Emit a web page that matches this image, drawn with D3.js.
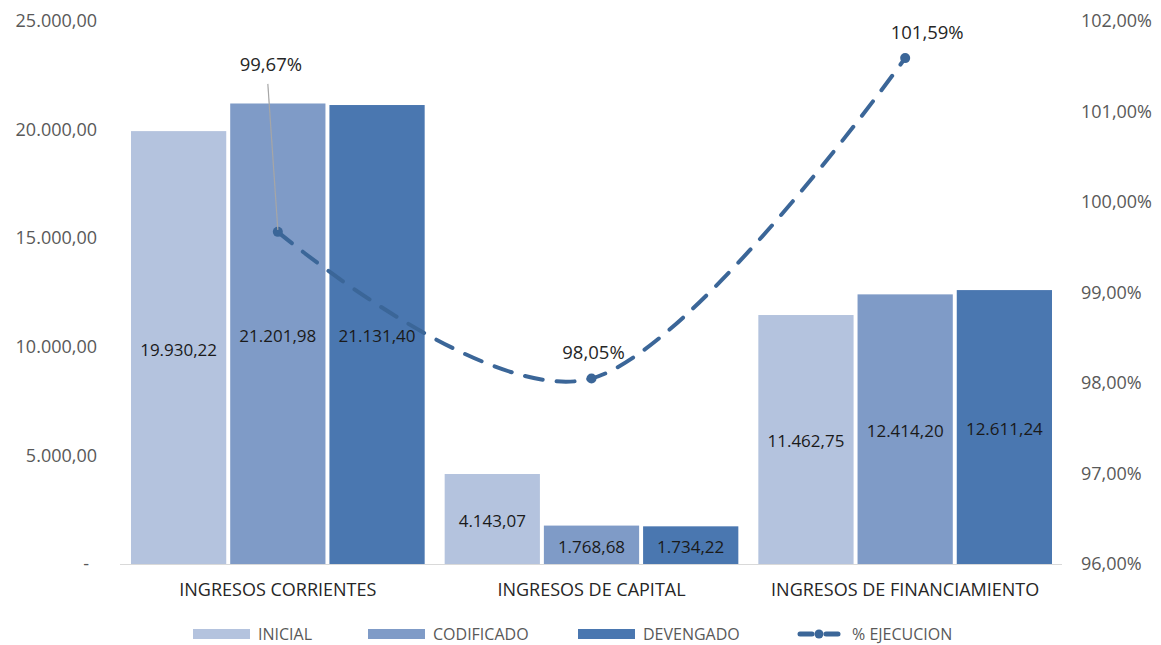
<!DOCTYPE html>
<html><head><meta charset="utf-8">
<script src="https://cdn.jsdelivr.net/npm/d3@7"></script>
<style>
body{margin:0;background:#fff;}
text{font-family:"Open Sans","Noto Sans",sans-serif;}
</style></head>
<body>
<svg id="c" width="1161" height="645"></svg>
<script>
const categories = ["INGRESOS CORRIENTES","INGRESOS DE CAPITAL","INGRESOS DE FINANCIAMIENTO"];
const seriesNames = ["INICIAL","CODIFICADO","DEVENGADO"];
const inicial = [19930.22, 4143.07, 11462.75];
const codificado = [21201.98, 1768.68, 12414.20];
const devengado = [21131.40, 1734.22, 12611.24];
const ejecucion = [99.67, 98.05, 101.59];
const lineName = "% EJECUCION";
const leftTicks = [0, 5000, 10000, 15000, 20000, 25000];
const rightTicks = [96, 97, 98, 99, 100, 101, 102];
const colors = ["#b4c3de", "#7f9bc7", "#4a77b0"];
const lineColor = "#3b6698";

const svg = d3.select("#c");
const pL = 121, pR = 1062, pT = 21, pB = 564;

const x0 = d3.scaleBand().domain(categories).range([pL, pR]).paddingInner(0).paddingOuter(0);
const x1 = d3.scaleBand().domain(seriesNames).range([10, x0.bandwidth() - 10]).paddingInner(0.04);
const y = d3.scaleLinear().domain([0, 25000]).range([pB, pT]);
const y2 = d3.scaleLinear().domain([96, 102]).range([pB, pT]);

const fmt = d3.formatLocale({decimal: ",", thousands: ".", grouping: [3], currency: ["", ""]});
const f2 = fmt.format(",.2f");

const seriesVals = [inicial, codificado, devengado];

// bars
categories.forEach((c, i) => {
  const g = svg.append("g").attr("transform", `translate(${x0(c)},0)`);
  seriesNames.forEach((s, j) => {
    const v = seriesVals[j][i];
    g.append("rect").attr("x", x1(s)).attr("y", y(v)).attr("width", x1.bandwidth())
      .attr("height", y(0) - y(v)).attr("fill", colors[j]);
    g.append("text").attr("x", x1(s) + x1.bandwidth() / 2).attr("y", (y(v) + y(0)) / 2 + 2)
      .attr("dy", "0.35em").attr("text-anchor", "middle").attr("font-size", 17)
      .attr("fill", "#1a1a1a").text(f2(v));
  });
});

// baseline
svg.append("line").attr("x1", pL - 1).attr("x2", pR).attr("y1", y(0) + 0.5).attr("y2", y(0) + 0.5)
  .attr("stroke", "#d9d9d9").attr("stroke-width", 1);

// left axis
const ax = d3.axisLeft(y).tickValues(leftTicks).tickSize(0).tickPadding(0)
  .tickFormat(d => d === 0 ? "-" : f2(d));
const gl = svg.append("g").attr("transform", "translate(97,0)").call(ax);
gl.select(".domain").remove();
gl.selectAll("text").attr("font-size", 18).attr("fill", "#595959").attr("font-family", "'Open Sans',sans-serif");
gl.selectAll(".tick").filter(d => d === 0).select("text").attr("x", -8);

// right axis
const ar = d3.axisRight(y2).tickValues(rightTicks).tickSize(0).tickPadding(0)
  .tickFormat(d => fmt.format(".2f")(d) + "%");
const gr = svg.append("g").attr("transform", "translate(1081,0)").call(ar);
gr.select(".domain").remove();
gr.selectAll("text").attr("font-size", 18).attr("fill", "#595959").attr("font-family", "'Open Sans',sans-serif");

// category labels
categories.forEach(c => {
  svg.append("text").attr("x", x0(c) + x0.bandwidth() / 2).attr("y", 590).attr("dy", "0.35em")
    .attr("text-anchor", "middle").attr("font-size", 18).attr("fill", "#262626").text(c);
});

// line
const pts = categories.map((c, i) => [x0(c) + x0.bandwidth() / 2, y2(ejecucion[i])]);
svg.append("path").attr("d", d3.line().curve(d3.curveCardinal.tension(0))(pts))
  .attr("fill", "none").attr("stroke", lineColor).attr("stroke-width", 4)
  .attr("stroke-dasharray", "18,14").attr("stroke-linecap", "round");
svg.selectAll("circle.pt").data(pts).enter().append("circle")
  .attr("cx", d => d[0]).attr("cy", d => d[1]).attr("r", 5).attr("fill", lineColor);

// line labels (centres relative to points)
const labOff = [[-7, -167], [2, -26], [22, -26]];
svg.append("line").attr("x1", pts[0][0] - 10).attr("y1", pts[0][1] - 148).attr("x2", pts[0][0]).attr("y2", pts[0][1] - 2)
  .attr("stroke", "#a6a6a6").attr("stroke-width", 1.2);
pts.forEach((p, i) => {
  svg.append("text").attr("x", p[0] + labOff[i][0]).attr("y", p[1] + labOff[i][1]).attr("dy", "0.35em")
    .attr("text-anchor", "middle").attr("font-size", 18.5).attr("fill", "#262626")
    .text(fmt.format(".2f")(ejecucion[i]) + "%");
});

// legend
const ly = 634;
const legX = [193, 368, 578];
seriesNames.forEach((s, j) => {
  svg.append("rect").attr("x", legX[j]).attr("y", ly - 5).attr("width", 57).attr("height", 10).attr("fill", colors[j]);
  svg.append("text").attr("x", legX[j] + 65).attr("y", ly).attr("dy", "0.35em")
    .attr("font-size", 16).attr("fill", "#595959").text(s);
});
svg.append("line").attr("x1", 800).attr("x2", 812).attr("y1", ly).attr("y2", ly).attr("stroke", lineColor).attr("stroke-width", 5).attr("stroke-linecap", "round");
svg.append("line").attr("x1", 826).attr("x2", 838).attr("y1", ly).attr("y2", ly).attr("stroke", lineColor).attr("stroke-width", 5).attr("stroke-linecap", "round");
svg.append("circle").attr("cx", 819).attr("cy", ly).attr("r", 4.5).attr("fill", lineColor);
svg.append("text").attr("x", 852).attr("y", ly).attr("dy", "0.35em")
  .attr("font-size", 16).attr("fill", "#595959").text(lineName);
</script>
</body></html>
